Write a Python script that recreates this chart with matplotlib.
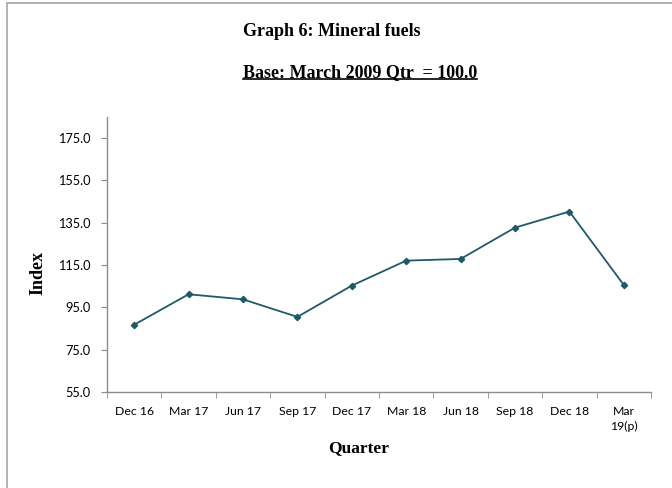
import matplotlib.pyplot as plt
from matplotlib.patches import Rectangle
import numpy as np

# quarter labels and index values
quarters = ['Dec 16', 'Mar 17', 'Jun 17', 'Sep 17', 'Dec 17', 'Mar 18',
            'Jun 18', 'Sep 18', 'Dec 18', 'Mar\n19(p)']
index_vals = [86.8, 101.2, 98.8, 90.5, 105.3, 117.1, 117.9, 132.7, 140.3, 105.6]
y_ticks = [55.0, 75.0, 95.0, 115.0, 135.0, 155.0, 175.0]

serif = 'Liberation Serif'
sans = 'Lato'
grey = '#8c8c8c'

fig = plt.figure(figsize=(6.72, 4.88), dpi=100)
ax = fig.add_axes([107/672, 1 - 392/488, 544/672, 275/488])

x = np.arange(len(quarters))
ax.plot(x, index_vals, color='#1f5a6b', linewidth=1.3, marker='D', markersize=3.2)

ax.set_xlim(-0.5, len(quarters) - 0.5)
ax.set_ylim(55, 185)

# category labels centred, tick marks at the boundaries
ax.set_xticks(x)
ax.set_xticklabels(quarters, fontfamily=sans, fontsize=8.8, linespacing=1.4)
ax.set_xticks(np.arange(len(quarters) + 1) - 0.5, minor=True)
ax.tick_params(axis='x', which='major', length=0, pad=10)
ax.tick_params(axis='x', which='minor', length=4, color=grey, direction='out')

ax.set_yticks(y_ticks)
ax.set_yticklabels(['%.1f' % v for v in y_ticks], fontfamily=sans, fontsize=9.2)
ax.tick_params(axis='y', length=4, color=grey, direction='out', pad=8)

for side in ['top', 'right']:
    ax.spines[side].set_visible(False)
for side in ['left', 'bottom']:
    ax.spines[side].set_color(grey)
    ax.spines[side].set_linewidth(1.0)

# titles and axis labels
fig.text(243/672, 1 - 31/488, 'Graph 6: Mineral fuels', fontfamily=serif,
         fontweight='bold', fontsize=13, ha='left', va='center')
sub = fig.text(243/672, 1 - 73/488, 'Base: March 2009 Qtr  = 100.0', fontfamily=serif,
               fontweight='bold', fontsize=13, ha='left', va='center')
fig.canvas.draw()
bb = sub.get_window_extent().transformed(fig.transFigure.inverted())
fig.add_artist(plt.Line2D([bb.x0, bb.x1], [bb.y0 + 0.005, bb.y0 + 0.005],
                          color='black', linewidth=1.2, transform=fig.transFigure))

fig.text(359/672, 1 - 448/488, 'Quarter', fontfamily=serif, fontweight='bold',
         fontsize=12.5, ha='center', va='center')
fig.text(38/672, 1 - 273/488, 'Index', fontfamily=serif, fontweight='bold',
         fontsize=13, ha='center', va='center', rotation=90)

# outer chart frame
fig.add_artist(Rectangle((7/672, -0.05), 1.0, 1.05 - 3/488, transform=fig.transFigure,
                         fill=False, edgecolor='#a6a6a6', linewidth=1.2, clip_on=False))

fig.savefig('out.png', dpi=100)
